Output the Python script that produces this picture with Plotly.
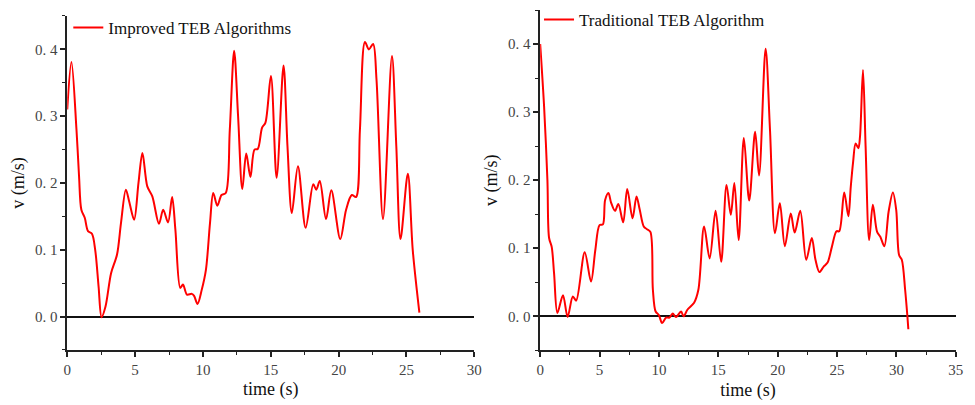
import plotly.graph_objects as go

# Improved TEB planner: time (s) and linear velocity (m/s)
improved_t = [0.0, 0.31, 0.68, 0.87, 1.04, 1.29, 1.53, 1.82, 2.06, 2.31, 2.53, 2.82, 3.23, 3.67,
              3.96, 4.32, 4.57, 4.93, 5.25, 5.54, 5.9, 6.27, 6.76, 7.07, 7.43, 7.73, 7.97, 8.33,
              8.53, 8.82, 9.18, 9.35, 9.6, 9.91, 10.22, 10.52, 10.76, 11.06, 11.37, 11.68, 11.98,
              12.3, 12.59, 12.9, 13.19, 13.5, 13.8, 14.04, 14.36, 14.6, 15.01, 15.43, 15.94,
              16.23, 16.55, 17.0, 17.57, 18.13, 18.35, 18.61, 19.07, 19.46, 20.12, 20.55, 20.97,
              21.28, 21.57, 21.94, 22.23, 22.54, 22.79, 23.27, 23.93, 24.25, 24.56, 25.1, 25.46,
              25.95]
improved_v = [0.31, 0.381, 0.28, 0.21, 0.16, 0.148, 0.128, 0.124, 0.10, 0.045, -0.001, 0.015,
              0.065, 0.093, 0.14, 0.19, 0.172, 0.145, 0.2, 0.245, 0.195, 0.18, 0.139, 0.16, 0.141,
              0.179, 0.13, 0.043, 0.048, 0.033, 0.034, 0.031, 0.019, 0.04, 0.07, 0.14, 0.185,
              0.166, 0.182, 0.185, 0.28, 0.398, 0.30, 0.191, 0.244, 0.209, 0.25, 0.251, 0.283,
              0.29, 0.36, 0.208, 0.376, 0.255, 0.155, 0.225, 0.133, 0.198, 0.19, 0.203, 0.146,
              0.189, 0.116, 0.16, 0.182, 0.179, 0.28, 0.411, 0.40, 0.408, 0.355, 0.146, 0.39,
              0.255, 0.116, 0.214, 0.10, 0.006]

# Traditional TEB planner
traditional_t = [0.0, 0.33, 0.61, 0.75, 0.97, 1.17, 1.45, 1.92, 2.31, 2.75, 3.03, 3.75, 4.28,
                 4.64, 5.0, 5.28, 5.47, 5.75, 5.97, 6.3, 6.58, 6.99, 7.33, 7.78, 8.11, 8.38, 8.72,
                 8.99, 9.28, 9.49, 9.72, 9.99, 10.27, 10.6, 10.88, 11.16, 11.44, 11.86, 12.07,
                 12.41, 12.96, 13.32, 13.8, 14.27, 14.77, 15.24, 15.69, 16.05, 16.35, 16.71,
                 17.15, 17.6, 18.1, 18.43, 18.98, 19.35, 19.77, 20.18, 20.6, 21.1, 21.43, 21.9,
                 22.4, 22.87, 23.18, 23.51, 23.87, 24.2, 24.56, 24.95, 25.18, 25.6, 25.95, 26.15,
                 26.35, 26.56, 26.79, 26.93, 27.18, 27.4, 27.7, 28.01, 28.37, 28.64, 28.98, 29.34,
                 29.7, 29.98, 30.22, 30.45, 30.73, 30.92, 31.0]
traditional_v = [0.40, 0.308, 0.2, 0.115, 0.102, 0.063, 0.005, 0.031, -0.001, 0.029, 0.023,
                 0.094, 0.051, 0.097, 0.134, 0.135, 0.171, 0.181, 0.167, 0.155, 0.165, 0.138,
                 0.187, 0.144, 0.176, 0.157, 0.132, 0.128, 0.124, 0.039, 0.007, 0.002, -0.01,
                 -0.002, -0.002, 0.004, -0.001, 0.007, 0.0, 0.01, 0.02, 0.039, 0.132, 0.085,
                 0.155, 0.08, 0.193, 0.149, 0.196, 0.112, 0.262, 0.17, 0.271, 0.207, 0.393, 0.274,
                 0.122, 0.166, 0.103, 0.151, 0.123, 0.155, 0.083, 0.115, 0.083, 0.065, 0.073,
                 0.079, 0.102, 0.125, 0.125, 0.182, 0.147, 0.19, 0.227, 0.254, 0.247, 0.264,
                 0.362, 0.25, 0.112, 0.164, 0.124, 0.117, 0.103, 0.154, 0.182, 0.156, 0.09,
                 0.083, 0.039, 0.0, -0.019]

y_ticks = [0.0, 0.1, 0.2, 0.3, 0.4]
y_tick_text = ["0. 0", "0. 1", "0. 2", "0. 3", "0. 4"]
left_x_ticks = [0, 5, 10, 15, 20, 25, 30]
right_x_ticks = [0, 5, 10, 15, 20, 25, 30, 35]

RED = "#ff0000"
SERIF = "Liberation Serif, Times New Roman, serif"
TICK_FONT = dict(family=SERIF, size=15, color="#444444")
TITLE_FONT = dict(family=SERIF, size=18, color="#111111")
LEGEND_FONT = dict(family=SERIF, size=17, color="#111111")

fig = go.Figure()
fig.add_trace(go.Scatter(
    x=improved_t, y=improved_v, mode="lines", name="Improved TEB Algorithms",
    line=dict(color=RED, width=2, shape="spline", smoothing=0.9),
    xaxis="x", yaxis="y", legend="legend"))
fig.add_trace(go.Scatter(
    x=traditional_t, y=traditional_v, mode="lines", name="Traditional TEB Algorithm",
    line=dict(color=RED, width=2, shape="spline", smoothing=0.9),
    xaxis="x2", yaxis="y2", legend="legend2"))

def x_axis(rng, ticks, domain, anchor):
    return dict(domain=domain, anchor=anchor, range=rng, tickvals=ticks,
                ticks="outside", ticklen=5, tickwidth=1.5, tickcolor="#222",
                minor=dict(dtick=2.5, ticks="outside", ticklen=3, tickwidth=1.2, tickcolor="#222"),
                showline=True, linecolor="#222", linewidth=1.5, showgrid=False, zeroline=False,
                tickfont=TICK_FONT, title=dict(text="time (s)", font=TITLE_FONT, standoff=6))

def y_axis(domain, anchor):
    return dict(domain=domain, anchor=anchor, range=[-0.05, 0.45], tickvals=y_ticks,
                ticktext=y_tick_text, ticks="outside", ticklen=5, tickwidth=1.5, tickcolor="#222",
                minor=dict(dtick=0.05, tick0=0, ticks="outside", ticklen=3, tickwidth=1.2,
                           tickcolor="#222"),
                showline=True, linecolor="#222", linewidth=1.5, showgrid=False,
                zeroline=True, zerolinecolor="#111", zerolinewidth=1.5,
                tickfont=TICK_FONT, title=dict(text="v (m/s)", font=TITLE_FONT, standoff=6))

fig.update_layout(
    width=975, height=405,
    margin=dict(l=0, r=0, t=0, b=0),
    paper_bgcolor="white", plot_bgcolor="white",
    xaxis=x_axis([0, 30], left_x_ticks, [0.0656, 0.4879], "y"),
    yaxis=y_axis([0.1358, 0.9605], "x"),
    xaxis2=x_axis([0, 35], right_x_ticks, [0.5562, 0.9874], "y2"),
    yaxis2=y_axis([0.135, 0.9753], "x2"),
    legend=dict(x=0.0667, y=0.931, xanchor="left", yanchor="middle",
                bgcolor="rgba(0,0,0,0)", font=LEGEND_FONT),
    legend2=dict(x=0.555, y=0.951, xanchor="left", yanchor="middle",
                 bgcolor="rgba(0,0,0,0)", font=LEGEND_FONT),
    showlegend=True,
)

fig.write_html("out.html")
